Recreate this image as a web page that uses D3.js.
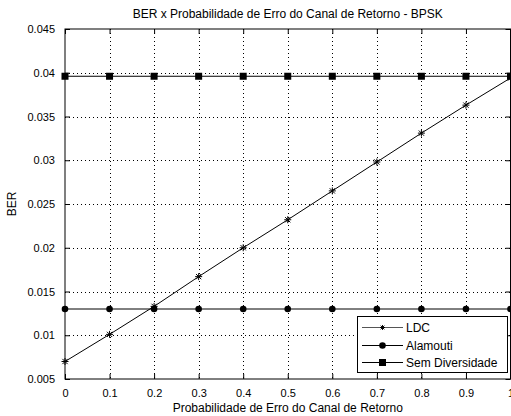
<!DOCTYPE html>
<html>
<head>
<meta charset="utf-8">
<script src="https://cdn.jsdelivr.net/npm/d3@7"></script>
<style>
  html, body { margin: 0; padding: 0; background: #fff; }
  svg { display: block; }
  text { font-family: "Liberation Sans", Arial, sans-serif; fill: #000; }
</style>
</head>
<body>
<svg id="chart" width="511" height="416"></svg>
<script>
// Feedback-channel error probability (x axis)
const probErro = [0, 0.1, 0.2, 0.3, 0.4, 0.5, 0.6, 0.7, 0.8, 0.9, 1.0];

// BER for each scheme
const berLDC = [0.0070, 0.0101, 0.0133, 0.0167, 0.0200, 0.0232, 0.0265, 0.0298, 0.0331, 0.0363, 0.0394];
const berAlamouti = [0.0130, 0.0130, 0.0130, 0.0130, 0.0130, 0.0130, 0.0130, 0.0130, 0.0130, 0.0130, 0.0130];
const berSemDiv = [0.0396, 0.0396, 0.0396, 0.0396, 0.0396, 0.0396, 0.0396, 0.0396, 0.0396, 0.0396, 0.0396];

// Axis ticks
const xTicks = [0, 0.1, 0.2, 0.3, 0.4, 0.5, 0.6, 0.7, 0.8, 0.9, 1];
const yTicks = [0.005, 0.01, 0.015, 0.02, 0.025, 0.03, 0.035, 0.04, 0.045];

const seriesNames = ["LDC", "Alamouti", "Sem Diversidade"];
const titleText = "BER x Probabilidade de Erro do Canal de Retorno - BPSK";
const xLabelText = "Probabilidade de Erro do Canal de Retorno";
const yLabelText = "BER";

const svg = d3.select("#chart");
const m = { left: 65, right: 510.5, top: 29, bottom: 379 };

const x = d3.scaleLinear().domain([0, 1]).range([m.left, m.right]);
const y = d3.scaleLinear().domain([0.005, 0.045]).range([m.bottom, m.top]);

const fontSize = 11;

// dotted grid
const grid = svg.append("g").attr("stroke", "#000").attr("stroke-width", 1)
  .attr("stroke-dasharray", "1,3");
grid.selectAll("line.gx").data(xTicks.slice(1, -1)).join("line")
  .attr("x1", d => Math.round(x(d)) + 0.5).attr("x2", d => Math.round(x(d)) + 0.5)
  .attr("y1", m.top).attr("y2", m.bottom);
grid.selectAll("line.gy").data(yTicks.slice(1, -1)).join("line")
  .attr("y1", d => Math.round(y(d)) + 0.5).attr("y2", d => Math.round(y(d)) + 0.5)
  .attr("x1", m.left).attr("x2", m.right);

// axes with inward ticks, mirrored on top and right
const tickLen = 5;
const fmt = d => d3.format("")(+d.toFixed(3));
const gx = svg.append("g").attr("transform", `translate(0,${m.bottom})`)
  .call(d3.axisBottom(x).tickValues(xTicks).tickSize(-tickLen).tickPadding(10).tickFormat(fmt));
const gxTop = svg.append("g").attr("transform", `translate(0,${m.top})`)
  .call(d3.axisTop(x).tickValues(xTicks).tickSize(-tickLen).tickFormat(""));
const gy = svg.append("g").attr("transform", `translate(${m.left},0)`)
  .call(d3.axisLeft(y).tickValues(yTicks).tickSize(-tickLen).tickPadding(10).tickFormat(fmt));
const gyRight = svg.append("g").attr("transform", `translate(${m.right},0)`)
  .call(d3.axisRight(y).tickValues(yTicks).tickSize(-tickLen).tickFormat(""));

[gx, gxTop, gy, gyRight].forEach(g => {
  g.select(".domain").remove();
  g.selectAll(".tick line").attr("stroke", "#000");
  g.selectAll("text").attr("font-size", fontSize).attr("font-family", "Liberation Sans, Arial, sans-serif");
});
gx.selectAll("text").attr("dy", "0.71em");

// frame
svg.append("rect").attr("x", m.left).attr("y", m.top)
  .attr("width", m.right - m.left).attr("height", m.bottom - m.top)
  .attr("fill", "none").attr("stroke", "#000").attr("stroke-width", 1);

// series
const series = [
  { name: seriesNames[0], values: berLDC, marker: "star" },
  { name: seriesNames[1], values: berAlamouti, marker: "circle" },
  { name: seriesNames[2], values: berSemDiv, marker: "square" }
];

const line = d3.line().x(d => x(d[0])).y(d => y(d[1]));

function drawMarker(g, type, cx, cy, scale = 1) {
  if (type === "circle") {
    g.append("circle").attr("cx", cx).attr("cy", cy).attr("r", 3.3 * scale).attr("fill", "#000");
  } else if (type === "square") {
    const s = 7 * scale;
    g.append("rect").attr("x", cx - s / 2).attr("y", cy - s / 2).attr("width", s).attr("height", s).attr("fill", "#000");
  } else {
    const r = 3.5 * scale;
    const p = d3.path();
    p.moveTo(cx - r, cy); p.lineTo(cx + r, cy);
    p.moveTo(cx, cy - r); p.lineTo(cx, cy + r);
    const k = r * 0.75;
    p.moveTo(cx - k, cy - k); p.lineTo(cx + k, cy + k);
    p.moveTo(cx - k, cy + k); p.lineTo(cx + k, cy - k);
    g.append("path").attr("d", p.toString()).attr("stroke", "#000").attr("stroke-width", 1).attr("fill", "none");
  }
}

const plot = svg.append("g");
series.forEach(s => {
  const pts = probErro.map((px, i) => [px, s.values[i]]);
  plot.append("path").attr("d", line(pts)).attr("fill", "none")
    .attr("stroke", "#000").attr("stroke-width", 1);
  const mg = plot.append("g");
  pts.forEach(p => drawMarker(mg, s.marker, x(p[0]), y(p[1])));
});

// legend
const lg = svg.append("g");
lg.append("rect").attr("x", 357.5).attr("y", 316.5).attr("width", 150).attr("height", 56)
  .attr("fill", "#fff").attr("stroke", "#000").attr("stroke-width", 1);
const rowY = [327.5, 345.5, 362.5];
series.forEach((s, i) => {
  lg.append("line").attr("x1", 362).attr("x2", 403).attr("y1", rowY[i]).attr("y2", rowY[i])
    .attr("stroke", s.marker === "star" ? "#555" : "#000").attr("stroke-width", 1);
  drawMarker(lg, s.marker, 382.5, rowY[i], s.marker === "star" ? 0.7 : 1);
  lg.append("text").attr("x", 406).attr("y", rowY[i]).attr("dy", "0.35em")
    .attr("font-size", fontSize + 1).text(s.name);
});

// title and axis labels
svg.append("text").attr("x", (m.left + m.right) / 2).attr("y", 14).attr("dy", "0.35em")
  .attr("text-anchor", "middle").attr("font-size", fontSize + 1).text(titleText);
svg.append("text").attr("x", (m.left + m.right) / 2).attr("y", 408).attr("dy", "0.35em")
  .attr("text-anchor", "middle").attr("font-size", fontSize + 1).text(xLabelText);
svg.append("text").attr("transform", `translate(12,${(m.top + m.bottom) / 2}) rotate(-90)`)
  .attr("dy", "0.35em").attr("text-anchor", "middle").attr("font-size", fontSize + 1).text(yLabelText);
</script>
</body>
</html>
